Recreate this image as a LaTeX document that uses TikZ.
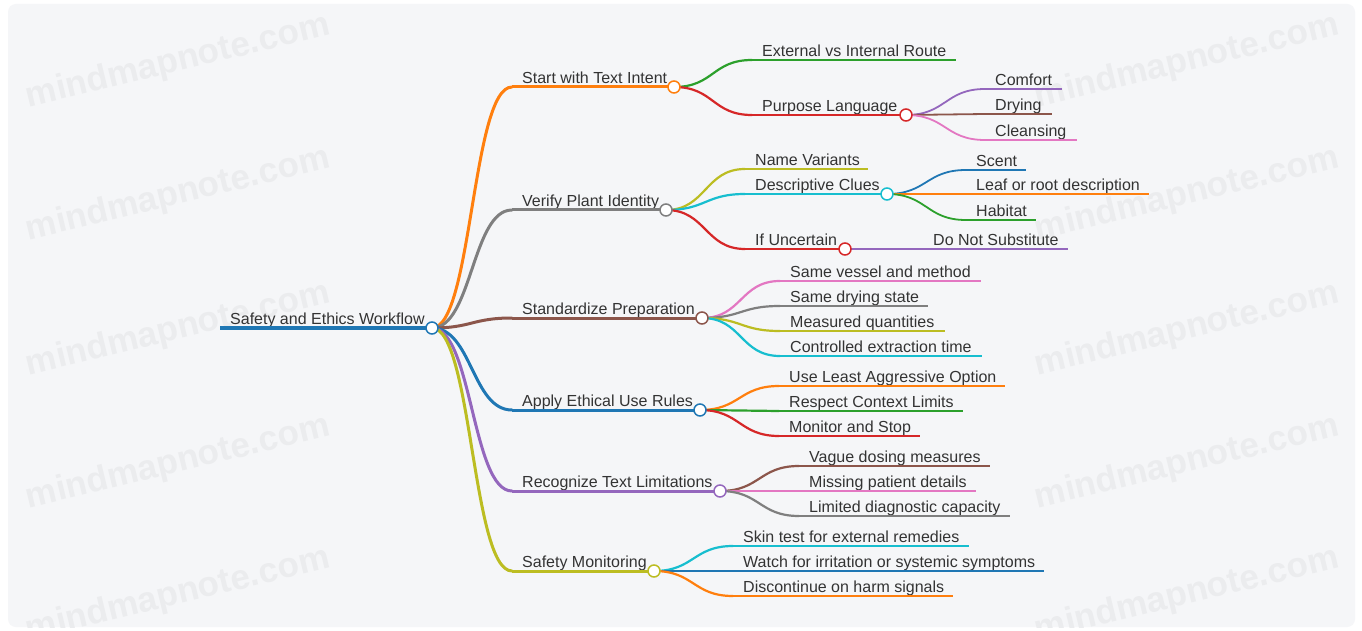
\documentclass[tikz,border=0pt]{standalone}
\usepackage{fontspec}
\setmainfont{Liberation Sans}
\definecolor{cOrange}{HTML}{FF7F0E}
\definecolor{cGreen}{HTML}{2CA02C}
\definecolor{cRed}{HTML}{D62728}
\definecolor{cPurple}{HTML}{9467BD}
\definecolor{cBrown}{HTML}{8C564B}
\definecolor{cPink}{HTML}{E377C2}
\definecolor{cGray}{HTML}{7F7F7F}
\definecolor{cOlive}{HTML}{BCBD22}
\definecolor{cCyan}{HTML}{17BECF}
\definecolor{cBlue}{HTML}{1F77B4}
\definecolor{txtc}{HTML}{333333}
\definecolor{bgc}{HTML}{F5F6F8}
\definecolor{wmc}{HTML}{EBECEE}
\tikzset{
  lbl/.style={anchor=base west, inner sep=0pt, text=txtc, font=\fontsize{16}{19}\selectfont},
  wm/.style={text=wmc, font=\fontsize{35}{40}\selectfont\bfseries, rotate=13.5, inner sep=0pt},
  dot/.style={circle, draw=#1, fill=white, line width=1.5pt, minimum size=12pt, inner sep=0pt},
  lvr/.style={line width=4.5pt},
  lva/.style={line width=3pt},
  lvb/.style={line width=2.2pt},
  lvc/.style={line width=1.8pt},
  conn/.style={line cap=round}
}
% \mmtopic{name}{parent}{color}{width style}{start x}{end x}{y}{text}
\newcommand\mmtopic[8]{%
  \coordinate (#1-s) at (#5,#7);
  \coordinate (#1-e) at (#6,#7);
  \node[lbl] (#1) at (#5+10,#7-3.5) {#8};
  \draw[#3,#4] (#1-s) -- (#1-e);
  \draw[#3,#4,conn] (#2-e) .. controls +(40,0) and +(-40,0) .. (#1-s);
}
\begin{document}
\begin{tikzpicture}[x=1pt,y=-1pt]
\useasboundingbox (0,0) rectangle (1362,631);
\fill[white] (0,0) rectangle (1362,631);
\fill[bgc, rounded corners=8pt] (8,4) rectangle (1355,627);
% watermarks
\begin{scope}
\clip[rounded corners=8pt] (8,4) rectangle (1355,627);
\foreach \yy in {62,195,330,463,595} {
  \node[wm] at (178,\yy) {mindmapnote.com};
  \node[wm] at (1187,\yy) {mindmapnote.com};
}
\end{scope}
% root
\coordinate (root-s) at (220,328);
\coordinate (root-e) at (432,328);
\node[lbl] (root) at (230,324.5) {Safety and Ethics Workflow};
\draw[cBlue,lvr] (root-s) -- (root-e);
% level 1
\mmtopic{a}{root}{cOrange}{lva}{512}{674}{87}{Start with Text Intent}
\mmtopic{b}{root}{cGray}{lva}{512}{666}{210}{Verify Plant Identity}
\mmtopic{c}{root}{cBrown}{lva}{512}{702}{318}{Standardize Preparation}
\mmtopic{d}{root}{cBlue}{lva}{512}{700}{410}{Apply Ethical Use Rules}
\mmtopic{e}{root}{cPurple}{lva}{512}{720}{491}{Recognize Text Limitations}
\mmtopic{f}{root}{cOlive}{lva}{512}{654}{571}{Safety Monitoring}
% level 2 : a
\mmtopic{a1}{a}{cGreen}{lvb}{752}{956}{60}{External vs Internal Route}
\mmtopic{a2}{a}{cRed}{lvb}{752}{906}{115}{Purpose Language}
\mmtopic{a21}{a2}{cPurple}{lvc}{985}{1062}{89}{Comfort}
\mmtopic{a22}{a2}{cBrown}{lvc}{985}{1052}{114}{Drying}
\mmtopic{a23}{a2}{cPink}{lvc}{985}{1077}{140}{Cleansing}
% b
\mmtopic{b1}{b}{cOlive}{lvb}{745}{868}{169}{Name Variants}
\mmtopic{b2}{b}{cCyan}{lvb}{745}{887}{194}{Descriptive Clues}
\mmtopic{b3}{b}{cRed}{lvb}{745}{845}{249}{If Uncertain}
\mmtopic{b21}{b2}{cBlue}{lvc}{966}{1026}{170}{Scent}
\mmtopic{b22}{b2}{cOrange}{lvc}{966}{1149}{194}{Leaf or root description}
\mmtopic{b23}{b2}{cGreen}{lvc}{966}{1036}{220}{Habitat}
\mmtopic{b31}{b3}{cPurple}{lvc}{923}{1068}{249}{Do Not Substitute}
% c
\mmtopic{c1}{c}{cPink}{lvb}{780}{981}{281}{Same vessel and method}
\mmtopic{c2}{c}{cGray}{lvb}{780}{928}{306}{Same drying state}
\mmtopic{c3}{c}{cOlive}{lvb}{780}{945}{331}{Measured quantities}
\mmtopic{c4}{c}{cCyan}{lvb}{780}{982}{356}{Controlled extraction time}
% d
\mmtopic{d1}{d}{cOrange}{lvb}{779}{1005}{386}{Use Least Aggressive Option}
\mmtopic{d2}{d}{cGreen}{lvb}{779}{963}{411}{Respect Context Limits}
\mmtopic{d3}{d}{cRed}{lvb}{779}{920}{436}{Monitor and Stop}
% e
\mmtopic{e1}{e}{cBrown}{lvb}{799}{990}{466}{Vague dosing measures}
\mmtopic{e2}{e}{cPink}{lvb}{799}{976}{491}{Missing patient details}
\mmtopic{e3}{e}{cGray}{lvb}{799}{1010}{516}{Limited diagnostic capacity}
% f
\mmtopic{f1}{f}{cCyan}{lvb}{733}{969}{546}{Skin test for external remedies}
\mmtopic{f2}{f}{cBlue}{lvb}{733}{1044}{571}{Watch for irritation or systemic symptoms}
\mmtopic{f3}{f}{cOrange}{lvb}{733}{953}{596}{Discontinue on harm signals}
% circles
\node[dot=cBlue] (root-c) at (root-e) {};
\node[dot=cOrange] (a-c) at (a-e) {};
\node[dot=cGray] (b-c) at (b-e) {};
\node[dot=cBrown] (c-c) at (c-e) {};
\node[dot=cBlue] (d-c) at (d-e) {};
\node[dot=cPurple] (e-c) at (e-e) {};
\node[dot=cOlive] (f-c) at (f-e) {};
\node[dot=cRed] (a2-c) at (a2-e) {};
\node[dot=cCyan] (b2-c) at (b2-e) {};
\node[dot=cRed] (b3-c) at (b3-e) {};
\end{tikzpicture}
\end{document}
